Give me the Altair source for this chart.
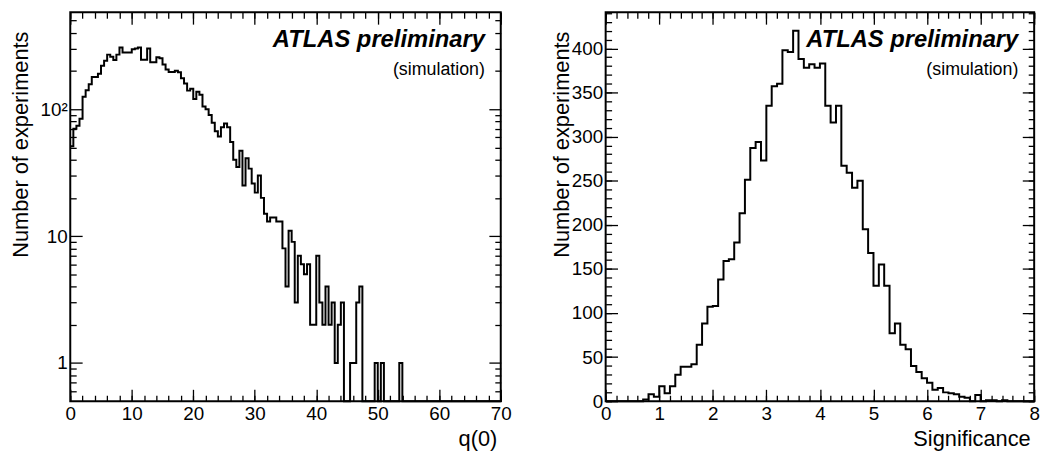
import altair as alt
import pandas as pd

FONT = "Liberation Sans"

# ---------------- data ----------------
# left: q(0) histogram, 140 bins of 0.5 from 0 to 70
q0_range = [0.0, 70.0]
q0_counts = [
    51, 70, 74, 84, 125, 141, 157, 179, 179, 190,
    220, 241, 269, 259, 244, 269, 306, 280, 280, 280,
    297, 300, 306, 245, 245, 300, 234, 234, 256, 252,
    225, 205, 196, 196, 201, 195, 175, 159, 140, 145,
    120, 137, 130, 105, 100, 90, 78, 67, 61, 72,
    77, 72, 55, 40, 35, 47, 25, 41, 34, 26,
    22, 30, 20, 15, 13, 14, 14, 13, 13, 8,
    4, 11, 9, 3, 7, 6, 5, 6, 2, 2,
    7, 3, 2, 4, 2, 3, 1, 2, 3, 0,
    0, 1, 1, 3, 4, 0, 0, 0, 0, 1,
    0, 1, 0, 0, 0, 0, 0, 1, 0, 0,
    0, 0, 0, 0, 0, 0, 0, 0, 0, 0,
    0, 0, 0, 0, 0, 0, 0, 0, 0, 0,
    0, 0, 0, 0, 0, 0, 0, 0, 0, 0,
]

# right: significance histogram, 80 bins of 0.1 from 0 to 8
sig_range = [0.0, 8.0]
sig_counts = [
    0, 0, 0, 0, 0, 0, 0, 2, 8, 5,
    17, 9, 17, 30, 39, 39, 42, 64, 88, 107,
    108, 138, 159, 161, 180, 213, 251, 287, 294, 273,
    335, 357, 360, 398, 396, 420, 388, 378, 382, 378,
    383, 335, 316, 335, 267, 259, 242, 250, 195, 168,
    131, 155, 131, 77, 88, 64, 59, 40, 33, 26,
    21, 13, 15, 10, 9, 8, 5, 4, 0, 7,
    0, 1, 1, 0, 1, 0, 0, 0, 0, 0,
]

# axis ticks
q0_major = [0, 10, 20, 30, 40, 50, 60, 70]
q0_minor = [round(i * 2.0, 3) for i in range(36)]
logy_major = [1, 10, 100]
logy_minor = [0.6, 0.7, 0.8, 0.9, 2, 3, 4, 5, 6, 7, 8, 9,
              20, 30, 40, 50, 60, 70, 80, 90, 200, 300, 400, 500]
sig_major = [0, 1, 2, 3, 4, 5, 6, 7, 8]
sig_minor = [round(i * 0.2, 3) for i in range(41)]
liny_major = [0, 50, 100, 150, 200, 250, 300, 350, 400]
liny_minor = [i * 10 for i in range(45)]

LEFT_W, RIGHT_W, H = 435, 433, 393


def hist_df(rng, counts, floor=None):
    n = len(counts)
    w = (rng[1] - rng[0]) / n
    edges = [rng[0] + i * w for i in range(n)] + [rng[1]]
    vals = list(counts) + [counts[-1]]
    df = pd.DataFrame({"edge": edges, "count": vals})
    if floor is not None:
        df["disp"] = df["count"].clip(lower=floor)
    else:
        df["disp"] = df["count"]
    return df


def axis(orient, values, major, labels=False, title=None, **extra):
    size = 12 if major else 6
    kw = dict(orient=orient, values=values, tickSize=size, offset=-size,
              domain=False, grid=False, ticks=True, tickColor="black",
              tickWidth=1.3, labels=labels, labelFlush=False, labelOverlap=False,
              labelFont=FONT, labelFontSize=19, labelColor="black", labelPadding=3,
              titleFont=FONT, titleFontSize=22, titleFontWeight="normal",
              titleColor="black")
    kw["title"] = title
    kw.update(extra)
    return alt.Axis(**kw)


def panel(df, xscale, yscale, xmaj, xmin, ymaj, ymin, xtitle, ytitle,
          width, ytitle_x, ylabel_expr=None):
    base = alt.Chart(df)
    line = dict(interpolate="step-after", color="black", strokeWidth=2)
    yextra = {}
    if ylabel_expr:
        yextra["labelExpr"] = ylabel_expr
    l1 = base.mark_line(**line).encode(
        x=alt.X("edge:Q", scale=xscale,
                axis=axis("bottom", xmaj, True, labels=True, title=xtitle,
                          titleAlign="right", titleAnchor="end", titleX=width - 4,
                          titleY=57, titleBaseline="alphabetic")),
        y=alt.Y("disp:Q", scale=yscale,
                axis=axis("left", ymaj, True, labels=True, title=ytitle,
                          titleAngle=270, titleAlign="right", titleX=ytitle_x,
                          titleY=19, titleBaseline="alphabetic", **yextra)),
    )
    inv = dict(interpolate="step-after", color="black", strokeOpacity=0)
    l2 = base.mark_line(**inv).encode(
        x=alt.X("edge:Q", scale=xscale, axis=axis("bottom", xmin, False)),
        y=alt.Y("disp:Q", scale=yscale, axis=axis("left", ymin, False)),
    )
    l3 = base.mark_line(**inv).encode(
        x=alt.X("edge:Q", scale=xscale, axis=axis("top", xmaj, True)),
        y=alt.Y("disp:Q", scale=yscale, axis=axis("right", ymaj, True)),
    )
    l4 = base.mark_line(**inv).encode(
        x=alt.X("edge:Q", scale=xscale, axis=axis("top", xmin, False)),
        y=alt.Y("disp:Q", scale=yscale, axis=axis("right", ymin, False)),
    )
    t1 = alt.Chart(pd.DataFrame({"t": ["ATLAS preliminary"]})).mark_text(
        font=FONT, fontSize=24, fontWeight="bold", fontStyle="italic",
        align="right", baseline="alphabetic", color="black"
    ).encode(x=alt.value(width - 16), y=alt.value(35), text="t:N")
    t2 = alt.Chart(pd.DataFrame({"t": ["(simulation)"]})).mark_text(
        font=FONT, fontSize=18, align="right", baseline="alphabetic", color="black"
    ).encode(x=alt.value(width - 16), y=alt.value(63), text="t:N")
    return alt.layer(l1, l2, l3, l4, t1, t2).resolve_axis(
        x="independent", y="independent"
    ).properties(width=width, height=H)


df_left = hist_df(q0_range, q0_counts, floor=0.3)
df_right = hist_df(sig_range, sig_counts)

left = panel(
    df_left,
    alt.Scale(domain=q0_range, nice=False, zero=False),
    alt.Scale(type="log", domain=[0.5, 580], clamp=True, nice=False),
    q0_major, q0_minor, logy_major, logy_minor,
    "q(0)", "Number of experiments", LEFT_W, -55,
    ylabel_expr="datum.value == 100 ? '10²' : datum.value == 10 ? '10' : '1'",
)
right = panel(
    df_right,
    alt.Scale(domain=sig_range, nice=False, zero=False),
    alt.Scale(domain=[0, 441], nice=False, zero=False),
    sig_major, sig_minor, liny_major, liny_minor,
    "Significance", "Number of experiments", RIGHT_W, -50,
)

chart = alt.hconcat(left, right, spacing=106, bounds="flush").properties(
    padding={"left": 9, "top": 8, "right": 9, "bottom": 5},
    background="white",
).configure_view(stroke="black", strokeWidth=2)

chart.save("out.html", embed_options={"renderer": "svg", "actions": False})
